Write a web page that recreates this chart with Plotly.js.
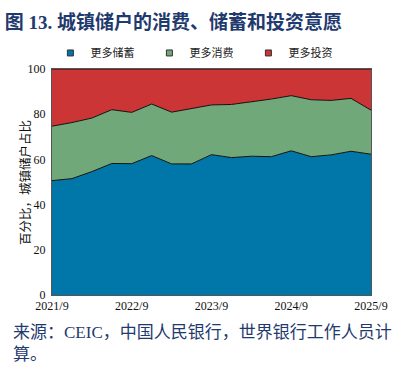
<!DOCTYPE html>
<html>
<head>
<meta charset="utf-8">
<script src="https://cdn.plot.ly/plotly-3.0.1.min.js"></script>
<style>html,body{margin:0;padding:0;background:#fff;}#chart{width:403px;height:368px;}</style>
</head>
<body>
<div id="chart"></div>
<script>
const periods = ["2021/9","2021/12","2022/3","2022/6","2022/9","2022/12","2023/3","2023/6","2023/9","2023/12","2024/3","2024/6","2024/9","2024/12","2025/3","2025/6","2025/9"];
const tickLabels = ["2021/9","2022/9","2023/9","2024/9","2025/9"];
const seriesNames = ["更多储蓄","更多消费","更多投资"];
const moreSaving = [50.6, 51.5, 54.6, 58.2, 58.1, 61.7, 58.0, 58.0, 62.1, 60.8, 61.4, 61.2, 63.8, 61.2, 62.0, 63.6, 62.3];
const moreConsumption = [24.1, 24.8, 23.7, 23.8, 22.7, 22.8, 22.9, 24.5, 22.0, 23.5, 24.0, 25.5, 24.4, 25.2, 24.1, 23.4, 19.5];
const moreInvestment = [25.3, 23.7, 21.7, 18.0, 19.2, 15.5, 19.1, 17.5, 15.9, 15.7, 14.6, 13.3, 11.8, 13.6, 13.9, 13.0, 18.2];

const serif = "Liberation Serif, Times New Roman, Noto Sans CJK SC, serif";
const cjk = "Noto Sans CJK SC, sans-serif";
const navy = "#1f3a6e";
const colors = ["#0077a8", "#70a87a", "#cc3535"];
const values = [moreSaving, moreConsumption, moreInvestment];

const data = [];
values.forEach((v, i) => data.push({
  type: "scatter", mode: "lines", name: seriesNames[i], x: periods, y: v,
  stackgroup: "one", fillcolor: colors[i], showlegend: false,
  line: {color: "#111", width: 1}
}));
// legend entries with square markers
seriesNames.forEach((n, i) => data.push({
  type: "scatter", mode: "markers", name: n, x: [null], y: [null],
  marker: {symbol: "square", size: 6, color: colors[i], line: {color: "#333", width: 1}},
  showlegend: true
}));

const layout = {
  width: 403, height: 368,
  margin: {l: 52, r: 32, t: 69, b: 73},
  paper_bgcolor: "#fff", plot_bgcolor: "#fff",
  showlegend: true,
  legend: {orientation: "h", x: -0.005, y: 1.071, xanchor: "left", yanchor: "middle",
           bgcolor: "rgba(0,0,0,0)",
           font: {family: cjk, size: 11, color: "#222"}, itemwidth: 30,
           entrywidth: 54, entrywidthmode: "pixels", traceorder: "normal", itemclick: false},
  title: {text: "<b>图 13. 城镇储户的消费、储蓄和投资意愿</b>", x: 0.012, xanchor: "left", y: 0.94, yanchor: "middle",
          font: {family: "Liberation Serif, Noto Sans CJK SC, serif", size: 19, color: navy}},
  xaxis: {type: "category", range: [0, 16], tickmode: "array", tickvals: tickLabels, ticktext: tickLabels,
          showgrid: false, zeroline: false, showline: true, mirror: true, linecolor: "#555", linewidth: 1,
          ticks: "", tickfont: {family: serif, size: 12, color: "#111"}},
  yaxis: {range: [0, 100], tickvals: [0,20,40,60,80,100], showgrid: false, zeroline: false,
          showline: true, mirror: true, linecolor: "#555", linewidth: 1, ticks: "outside", ticklen: 3, tickcolor: "rgba(0,0,0,0)",
          tickfont: {family: serif, size: 12, color: "#111"}},
  annotations: [
    {text: "百分比，城镇储户占比", xref: "paper", yref: "paper", x: -0.088, y: 0.5, textangle: -90,
     xanchor: "center", yanchor: "middle", showarrow: false,
     font: {family: cjk, size: 12.5, color: "#111"}},
    {text: "来源：CEIC，中国人民银行，世界银行工作人员计<br>算。", xref: "paper", yref: "paper",
     x: -0.13, y: -0.115, xanchor: "left", yanchor: "top", align: "left", showarrow: false,
     font: {family: "Liberation Serif, Noto Sans CJK SC, serif", size: 17, color: navy}}
  ]
};

Plotly.newPlot("chart", data, layout, {displayModeBar: false, staticPlot: true});
</script>
</body>
</html>
